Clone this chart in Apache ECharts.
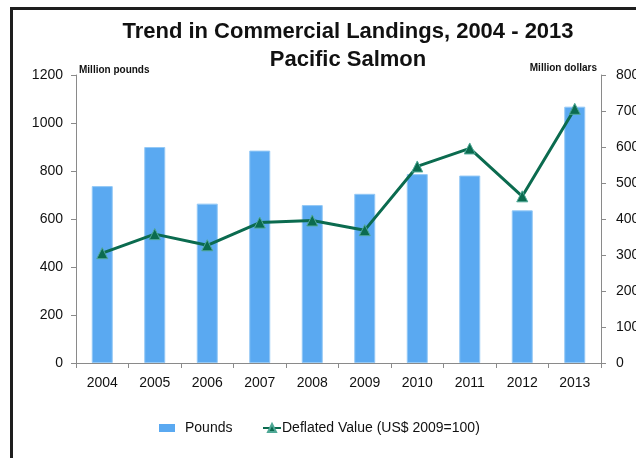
<!DOCTYPE html>
<html>
<head>
<meta charset="utf-8">
<script src="https://cdn.jsdelivr.net/npm/echarts@6/dist/echarts.min.js"></script>
<style>
html,body{margin:0;padding:0;background:#fff;overflow:hidden;width:636px;height:458px;}
#frame{position:absolute;left:10px;top:7px;width:800px;height:600px;border-left:3px solid #1e1e1e;border-top:3px solid #1e1e1e;}
#chart{position:absolute;left:0;top:0;width:680px;height:458px;}
</style>
</head>
<body>
<div id="frame"></div>
<div id="chart"></div>
<script>
const years = ['2004','2005','2006','2007','2008','2009','2010','2011','2012','2013'];
const pounds = [737, 900, 664, 885, 658, 705, 787, 781, 636, 1068];
const deflatedValue = [305, 358, 327, 390, 396, 369, 546, 596, 463, 706];
const leftTicks = {min: 0, max: 1200, interval: 200};
const rightTicks = {min: 0, max: 800, interval: 100};
const titleLines = ['Trend in Commercial Landings, 2004 - 2013', 'Pacific Salmon'];
const seriesNames = ['Pounds', 'Deflated Value (US$ 2009=100)'];

const chart = echarts.init(document.getElementById('chart'), null, {renderer: 'canvas'});
const font = 'Liberation Sans, Arial, sans-serif';
const axisGray = '#8a8a8a';
const plain = v => String(v);
chart.setOption({
  backgroundColor: 'transparent',
  animation: false,
  title: {
    text: titleLines.join('\n'),
    left: 343, top: 13, textAlign: 'center',
    textStyle: {fontFamily: font, fontSize: 22, fontWeight: 'bold', color: '#111', lineHeight: 28}
  },
  graphic: [
    {type: 'text', left: 79, top: 65, style: {text: 'Million pounds', font: 'bold 10px ' + font, fill: '#111'}},
    {type: 'text', right: 83, top: 63, style: {text: 'Million dollars', font: 'bold 10px ' + font, fill: '#111'}}
  ],
  legend: [
    {data: [seriesNames[0]], left: 154, top: 416, itemWidth: 16, itemHeight: 8, icon: 'rect',
     itemStyle: {borderWidth: 0},
     textStyle: {fontFamily: font, fontSize: 14, color: '#111', padding: [0,0,0,5]}},
    {data: [seriesNames[1]], left: 257, top: 416, itemWidth: 18, itemHeight: 10, itemGap: 0,
     textStyle: {fontFamily: font, fontSize: 14, color: '#111', padding: [0,0,0,-4]}}
  ],
  grid: {left: 76, right: 79, top: 75, bottom: 95},
  xAxis: {
    type: 'category', data: years,
    axisLine: {lineStyle: {color: axisGray, width: 1}},
    axisTick: {show: true, length: 5, lineStyle: {color: axisGray}},
    axisLabel: {fontFamily: font, fontSize: 14, color: '#111', margin: 13}
  },
  yAxis: [
    {type: 'value', min: leftTicks.min, max: leftTicks.max, interval: leftTicks.interval,
     axisLine: {show: true, lineStyle: {color: axisGray}},
     axisTick: {show: true, length: 5, lineStyle: {color: axisGray}},
     splitLine: {show: false},
     axisLabel: {fontFamily: font, fontSize: 14, color: '#111', margin: 13, formatter: plain}},
    {type: 'value', min: rightTicks.min, max: rightTicks.max, interval: rightTicks.interval, position: 'right',
     axisLine: {show: true, lineStyle: {color: axisGray}},
     axisTick: {show: true, length: 5, lineStyle: {color: axisGray}},
     splitLine: {show: false},
     axisLabel: {fontFamily: font, fontSize: 14, color: '#111', margin: 15, formatter: plain}}
  ],
  series: [
    {name: seriesNames[0], type: 'bar', data: pounds, yAxisIndex: 0, barWidth: 21,
     itemStyle: {color: '#5aa9f1', borderColor: '#94c9f6', borderWidth: 1}},
    {name: seriesNames[1], type: 'line', data: deflatedValue, yAxisIndex: 1,
     symbol: 'triangle', symbolSize: 11,
     lineStyle: {color: '#0b6b4f', width: 3},
     itemStyle: {color: '#0b6b4f', borderColor: '#4fa896', borderWidth: 1}}
  ]
});
</script>
</body>
</html>
